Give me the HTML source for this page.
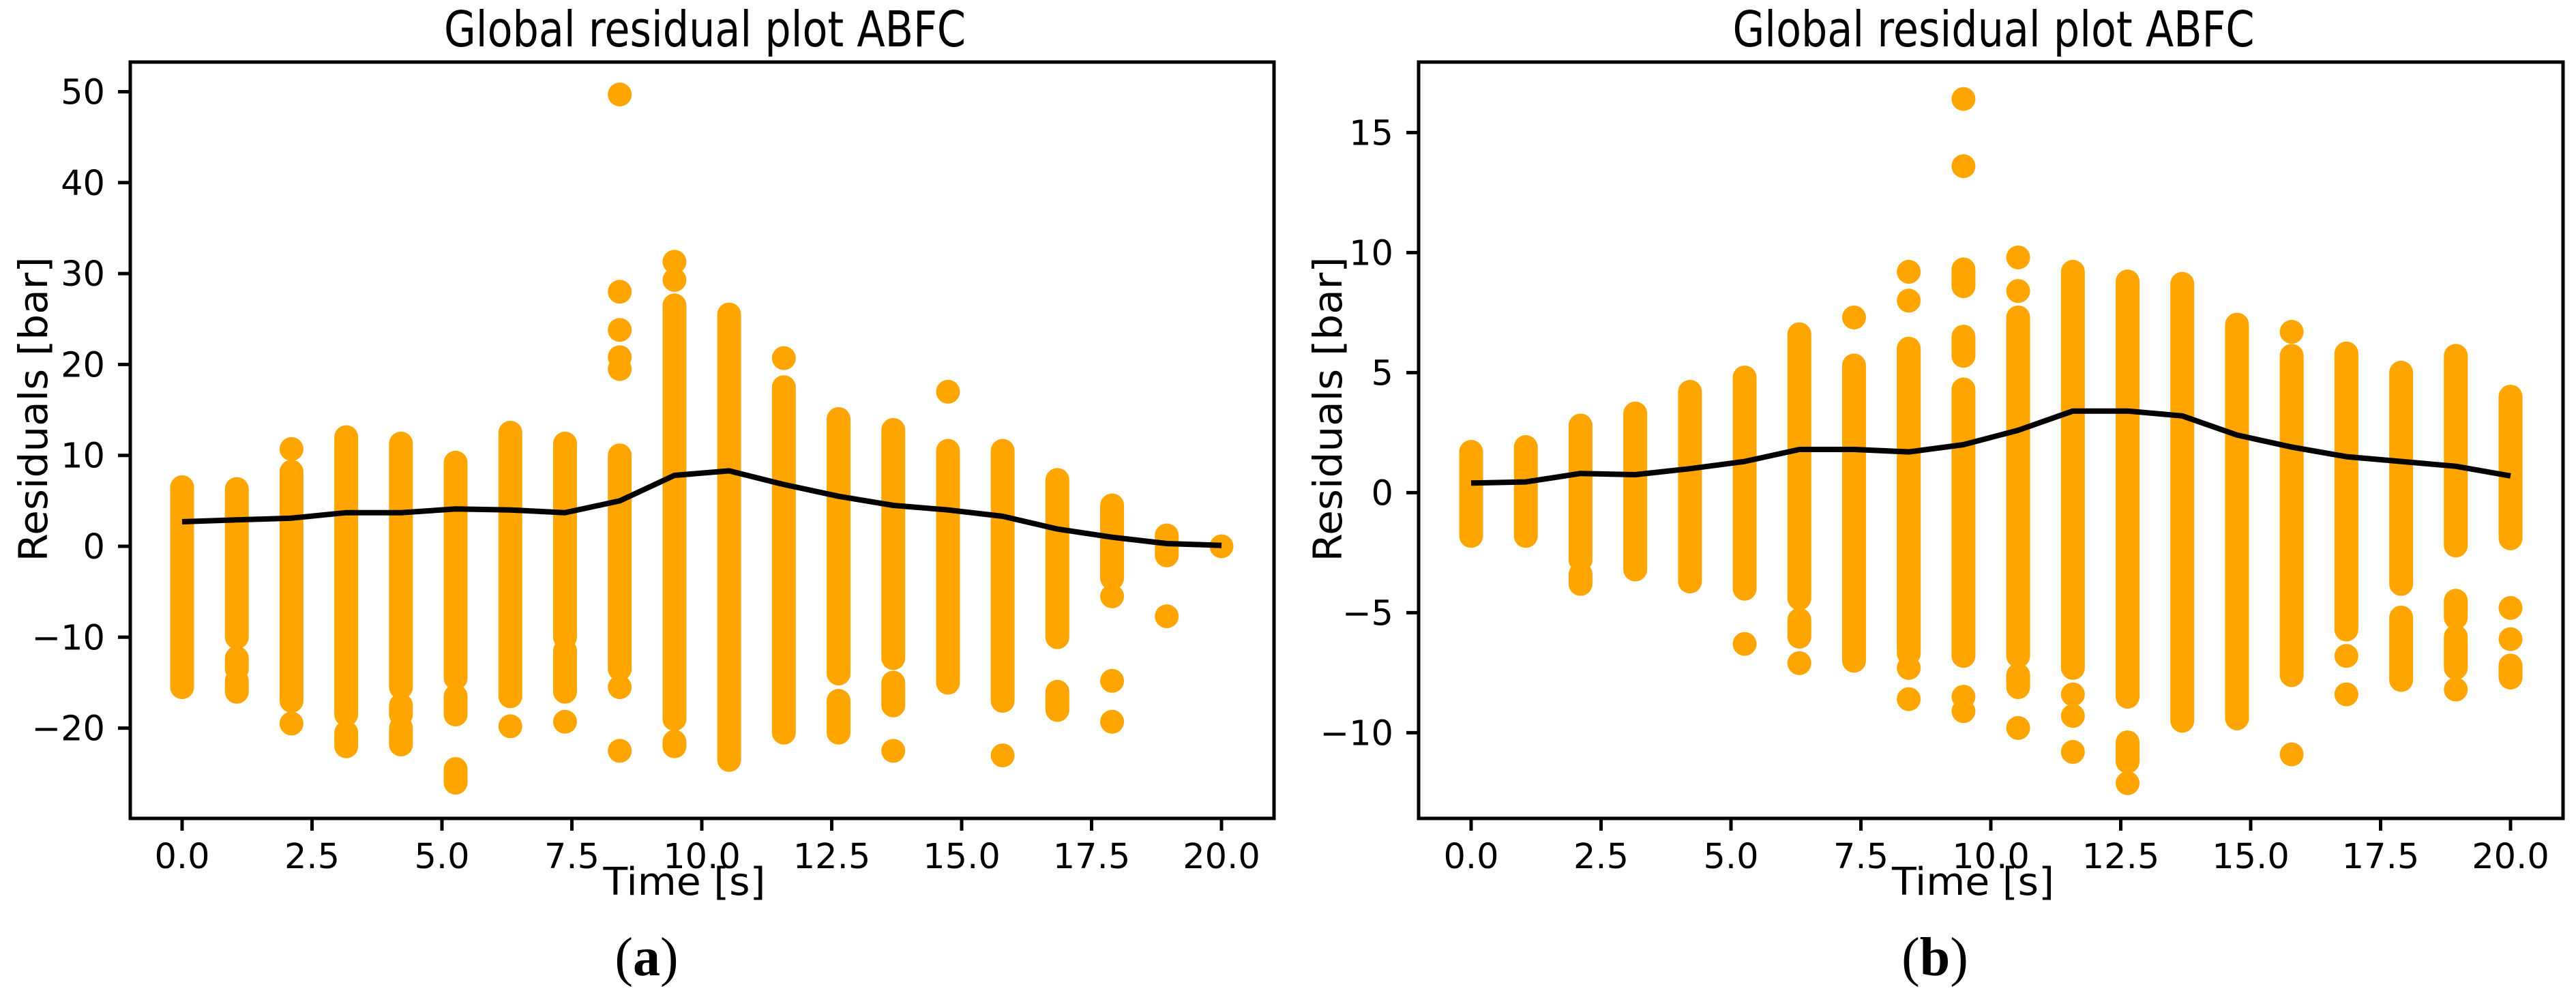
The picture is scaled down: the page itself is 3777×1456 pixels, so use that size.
<!DOCTYPE html>
<html><head><meta charset="utf-8"><style>
html,body{margin:0;padding:0;background:#fff;}
svg{display:block;}
text{font-family:"DejaVu Sans","Liberation Sans",sans-serif;fill:#000;}
</style></head><body>
<svg id="fig" width="3777" height="1456" viewBox="0 0 3777 1456" xmlns="http://www.w3.org/2000/svg"></svg>
<script>
// ---- shared ----
const times = [0,1.053,2.105,3.158,4.211,5.263,6.316,7.368,8.421,9.474,10.526,11.579,12.632,13.684,14.737,15.789,16.842,17.895,18.947,20];
const xTicks = [0,2.5,5,7.5,10,12.5,15,17.5,20];
const xTickLabels = ["0.0","2.5","5.0","7.5","10.0","12.5","15.0","17.5","20.0"];

// ---- panel a ----
const aBands = [
 [[-15.5,6.5]],
 [[-10,6.3],[-13.5,-12.3],[-16,-14.8]],
 [[-17,8.2]],
 [[-18.5,12],[-22,-20.5]],
 [[-15.5,11.3],[-18.5,-17.5],[-21.8,-20]],
 [[-14.5,9.2],[-18.5,-16.5],[-26,-24.5]],
 [[-16.5,12.5]],
 [[-10,11.3],[-16,-11.5]],
 [[-13.5,10]],
 [[-19,26.5],[-22,-21.5]],
 [[-23.5,25.5]],
 [[-20.5,17.5]],
 [[-14,14],[-20.5,-17]],
 [[-12.3,12.8],[-17.5,-15]],
 [[-15,10.5]],
 [[-17,10.5]],
 [[-10,7.3],[-18,-16]],
 [[-3.5,4.5]],
 [[-1,1.2]],
 []
];
const aPoints = [
 [],[],[10.7,-19.5],[],[],[],[-19.8],[-19.3],
 [-15.5,-22.5,19.5,20.8,23.8,28,49.7],
 [29.3,31.3],[],[20.7],[],[-22.5],[17],[-23],[],
 [-5.5,-14.8,-19.3],[-7.7],[0]
];
const aMean = [2.7,2.9,3.1,3.7,3.7,4.1,4.0,3.7,5.0,7.8,8.3,6.8,5.5,4.5,4.0,3.3,1.9,1.0,0.3,0.1];
const aYTicks = [-20,-10,0,10,20,30,40,50];
const aYTickLabels = ["\u221220","\u221210","0","10","20","30","40","50"];

// ---- panel b ----
const bBands = [
 [[-1.8,1.7]],
 [[-1.8,1.9]],
 [[-2.8,2.8],[-3.8,-3.4]],
 [[-3.2,3.3]],
 [[-3.7,4.2]],
 [[-4,4.8]],
 [[-4.4,6.6],[-6,-5.3]],
 [[-7,5.3]],
 [[-6.7,6]],
 [[-6.8,4.3],[5.7,6.5],[8.6,9.3]],
 [[-6.8,7.3],[-8.1,-7.6]],
 [[-7.3,9.2]],
 [[-8.5,8.8],[-11.2,-10.4]],
 [[-9.5,8.7]],
 [[-9.4,7]],
 [[-7.6,5.7]],
 [[-5.7,5.8]],
 [[-3.8,5],[-7.8,-5.2]],
 [[-2.2,5.7],[-5.2,-4.5],[-7.3,-6]],
 [[-1.9,4],[-7.7,-7.2]]
];
const bPoints = [
 [],[],[],[],[],[-6.3],[-7.1],[7.3],[8,9.2,-7.3,-8.6],
 [13.6,16.4,-8.5,-9.1],[8.4,9.8,-9.8],[-8.4,-9.3,-10.8],[-12.1],[],[],
 [6.7,-10.9],[-6.8,-8.4],[],[-8.2],[-4.8,-6.1]
];
const bMean = [0.4,0.45,0.8,0.75,1.0,1.3,1.8,1.8,1.7,2.0,2.6,3.4,3.4,3.2,2.4,1.9,1.5,1.3,1.1,0.7];
const bYTicks = [-10,-5,0,5,10,15];
const bYTickLabels = ["\u221210","\u22125","0","5","10","15"];

const NS = "http://www.w3.org/2000/svg";
const svg = document.getElementById('fig');
function mk(tag, attrs, parent){
  const e = document.createElementNS(NS, tag);
  for (const k in attrs) e.setAttribute(k, attrs[k]);
  (parent||svg).appendChild(e);
  return e;
}

function panel(cfg){
  const g = mk('g', {});
  
  
  const X = t => cfg.x0 + t * cfg.pxPerSec;
  const Y = v => cfg.yZero - v * cfg.pxPerUnit;
  const L = cfg.left, R = cfg.right, T = 91, B = 1200;
  const r = 17.5;
  const sg = mk('g', {}, g);
  
  
  cfg.bands.forEach((segs, i) => {
    segs.forEach(s => {
      const ln = mk('line', {x1:X(times[i]), x2:X(times[i]), y1:Y(s[0]), y2:Y(s[1]), stroke:'#ffa500', 'stroke-width':2*r, 'stroke-linecap':'round'}, sg);
      
      
    });
  });
  cfg.points.forEach((pts, i) => {
    pts.forEach(v => {
      const c = mk('circle', {cx:X(times[i]), cy:Y(v), r:r, fill:'#ffa500'}, sg);
      
      
    });
  });
  const d = cfg.mean.map((v,i) => (i?'L':'M') + X(times[i]).toFixed(1) + ' ' + Y(v).toFixed(1)).join(' ');
  const ml = mk('path', {d:d, fill:'none', stroke:'#000', 'stroke-width':8, 'stroke-linejoin':'round'}, g);
  
  
  const fr = mk('rect', {x:L, y:T, width:R-L, height:B-T, fill:'none', stroke:'#000', 'stroke-width':5}, g);
  
  
  xTicks.forEach((t, i) => {
    const tk = mk('line', {x1:X(t), x2:X(t), y1:B, y2:B+18, stroke:'#000', 'stroke-width':5}, g);
    
    
    const tx = mk('text', {x:X(t), y:1273, 'font-size':51, 'text-anchor':'middle'}, g);
    tx.textContent = xTickLabels[i];
    
    
  });
  cfg.yTicks.forEach((v, i) => {
    const tk = mk('line', {x1:L-18, x2:L, y1:Y(v), y2:Y(v), stroke:'#000', 'stroke-width':5}, g);
    
    
    const tx = mk('text', {x:L-37, y:Y(v)+18, 'font-size':51, 'text-anchor':'end'}, g);
    tx.textContent = cfg.yTickLabels[i];
    
    
  });
  const cx = (L+R)/2;
  const tt = mk('text', {x:cx+4, y:68, 'font-size':72, 'text-anchor':'middle', textLength:765, lengthAdjust:'spacingAndGlyphs'}, g);
  tt.textContent = 'Global residual plot ABFC';
  
  
  const xl = mk('text', {x:cx-26, y:1312, 'font-size':56, 'text-anchor':'middle', textLength:238, lengthAdjust:'spacingAndGlyphs'}, g);
  xl.textContent = 'Time [s]';
  
  
  const yx = cfg.ylabX, yy = 600;
  const yl = mk('text', {x:yx, y:yy, 'font-size':58, 'text-anchor':'middle', textLength:447, lengthAdjust:'spacingAndGlyphs', transform:'rotate(-90 '+yx+' '+yy+')', dy:'20'}, g);
  yl.textContent = 'Residuals [bar]';
  
  
  const cap = mk('text', {x:cfg.capX, y:1430, 'font-size':80, 'text-anchor':'middle', style:'font-family:"Liberation Serif",serif'}, g);
  cap.innerHTML = '(<tspan font-weight="bold">' + cfg.cap + '</tspan>)';
  
  
}

panel({name:'panel-a', left:191, right:1868, x0:267, pxPerSec:76.2, yZero:801, pxPerUnit:13.33,
  bands:aBands, points:aPoints, mean:aMean, yTicks:aYTicks, yTickLabels:aYTickLabels, ylabX:49, capX:948, cap:'a'});
panel({name:'panel-b', left:2080, right:3758, x0:2157, pxPerSec:76.2, yZero:722.4, pxPerUnit:35.2,
  bands:bBands, points:bPoints, mean:bMean, yTicks:bYTicks, yTickLabels:bYTickLabels, ylabX:1947, capX:2837, cap:'b'});
</script>
</body></html>
